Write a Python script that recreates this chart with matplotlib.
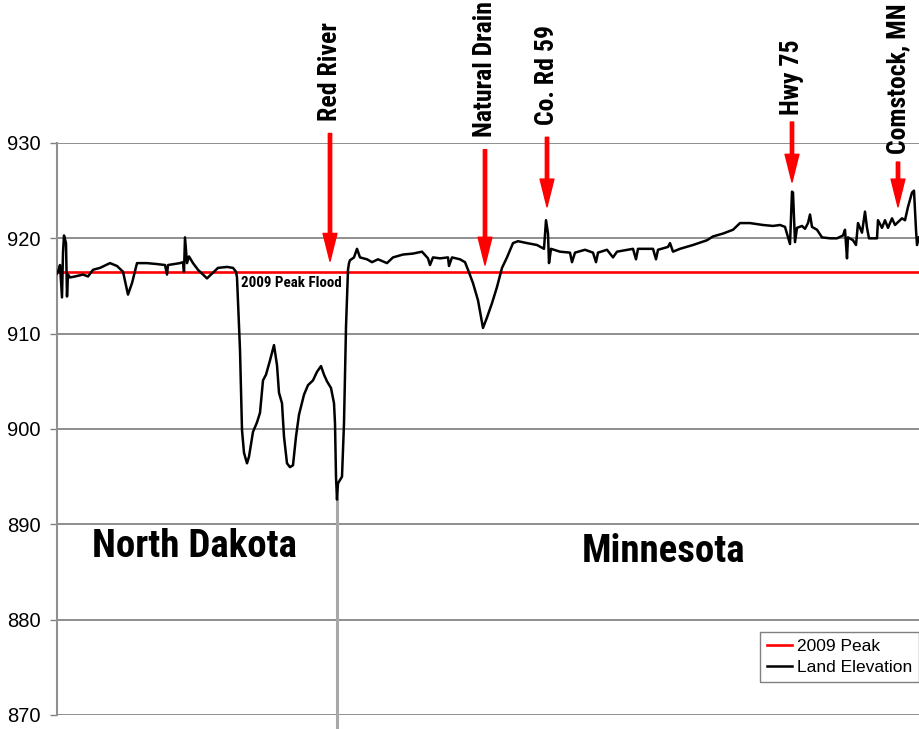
import matplotlib
matplotlib.use("Agg")
import matplotlib.pyplot as plt
from matplotlib import font_manager

# land elevation profile, ND -> MN (distance in arbitrary chart units)
dist = [0,
        1, 3, 5, 6, 7, 9, 10, 11, 13, 18,
        26, 31, 36, 43, 53, 60, 66, 71, 75, 80,
        90, 100, 108, 110, 111, 123, 126, 127, 128, 130,
        132, 136, 141, 150, 155, 161, 170, 176, 179,
        180, 183, 185, 187, 190, 192, 196, 200, 203, 206,
        209, 213, 217, 220, 222, 225, 227, 230, 233, 236,
        239, 242, 247, 251, 256, 260, 264, 267, 270, 274,
        277, 278, 279, 280, 281, 285, 287, 289, 291, 292,
        293, 297, 300,
        303, 310, 315, 321, 330, 336, 346, 356, 365, 371,
        373, 376, 383, 391, 392, 395, 403, 408, 411, 416,
        421, 426, 430, 435, 440, 445, 450, 456, 461, 470,
        480, 487, 489, 491, 492, 494, 503, 513, 515, 518,
        528, 536, 539, 541,
        550, 556, 560, 576, 579, 581, 596, 599, 601, 611,
        613, 616, 623, 636, 650, 656, 666, 676, 683, 693,
        706, 716, 723, 728, 731, 733, 735, 736, 738, 740,
        745, 748, 751, 753, 755, 760, 765, 773, 780, 786,
        788, 790, 791, 796, 799, 801, 805, 808, 810, 812,
        820, 821, 825, 828, 831, 835, 838, 841, 845, 848,
        851, 855, 857, 859, 860, 862]

elevation = [916.3,
             916.5, 917.2, 913.8, 918.5, 920.3, 919.5, 913.9, 916.2, 915.9, 916.0,
             916.2, 916.0, 916.7, 916.9, 917.4, 917.1, 916.5, 914.1, 915.3, 917.4,
             917.4, 917.3, 917.2, 916.2, 917.2, 917.4, 917.5, 916.5, 920.1, 917.4,
             918.1, 917.4, 916.7, 915.8, 916.3, 916.9, 917.0, 916.9, 916.5,
             915.9, 908.3, 899.9, 897.5, 896.4, 897.1, 899.7, 900.7, 901.7, 905.1,
             905.7, 907.2, 908.8, 906.7, 903.8, 902.7, 899.2, 896.4, 896.0, 896.2,
             899.2, 901.5, 903.6, 904.6, 905.1, 906.0, 906.6, 905.7, 905.0, 904.3,
             902.7, 900.6, 895.0, 892.6, 894.3, 895.0, 900.6, 910.7, 916.7, 917.4,
             917.7, 918.0, 918.9,
             918.0, 917.8, 917.5, 917.8, 917.4, 918.0, 918.3, 918.4, 918.6, 917.9,
             917.2, 918.0, 917.9, 918.0, 917.1, 918.0, 917.8, 917.5, 916.7, 915.3,
             913.5, 910.6, 911.7, 913.2, 914.9, 916.9, 918.0, 919.5, 919.7, 919.5,
             919.3, 918.9, 921.9, 920.5, 917.4, 918.9, 918.6, 918.5, 917.5, 918.5,
             918.8, 918.5, 917.5, 918.5,
             918.8, 918.0, 918.6, 918.9, 917.8, 918.9, 918.9, 917.8, 918.8, 919.1,
             919.5, 918.6, 918.9, 919.3, 919.8, 920.2, 920.5, 920.9, 921.6, 921.6,
             921.4, 921.3, 921.4, 921.2, 920.1, 919.4, 924.9, 924.8, 919.6, 921.1,
             921.3, 921.0, 921.6, 922.5, 921.2, 920.9, 920.1, 920.0, 920.0, 920.3,
             920.9, 917.9, 920.1, 919.8, 919.3, 921.6, 920.6, 922.8, 921.1, 920.0,
             920.0, 921.9, 921.1, 921.9, 921.1, 922.1, 921.4, 921.7, 922.1, 921.9,
             923.3, 924.8, 925.0, 920.9, 919.3, 920.1]

peak_2009 = 916.5

# landmarks: label, x, arrow tail, arrow tip, label base
marker_names = ["Red River", "Natural Drain", "Co. Rd 59", "Hwy 75", "Comstock, MN"]
marker_x = [273, 428, 490, 735, 841]
marker_tail = [931.0, 929.3, 930.6, 932.2, 928.0]
marker_tip = [917.6, 917.2, 923.3, 925.9, 923.3]
marker_label_y = [932.3, 930.6, 931.9, 932.9, 928.8]

y_ticks = [870, 880, 890, 900, 910, 920, 930]


def pick_font(names, fallback):
    have = {f.name for f in font_manager.fontManager.ttflist}
    for n in names:
        if n in have:
            return n
    return fallback


narrow = pick_font(["Liberation Sans Narrow", "Arial Narrow", "DejaVu Sans Condensed",
                    "Roboto Condensed"], "Liberation Sans")
plt.rcParams["font.family"] = ["Liberation Sans", "DejaVu Sans"]

fig = plt.figure(figsize=(9.2, 7.29), dpi=100)
ax = fig.add_axes([57 / 920, 14 / 729, 1 - 57 / 920, 572 / 729])

ax.axhline(peak_2009, color="#ff0000", lw=1.9, label="2009 Peak", zorder=3)
ax.plot(dist, elevation, color="black", lw=1.8, label="Land Elevation", zorder=4)

# the deepest point runs off the bottom of the chart
i_min = elevation.index(min(elevation))
ax.plot([dist[i_min], dist[i_min]], [min(elevation), 868.0], color="#a8a8a8",
        lw=2.2, clip_on=False, zorder=2)

ax.set_xlim(0, 863)
ax.set_ylim(870, 930)
ax.set_yticks(y_ticks)
ax.set_xticks([])
ax.tick_params(axis="y", length=5, width=1, color="#808080", pad=7, labelsize=14.5)
ax.grid(axis="y", color="#707070", lw=1.1)
for s in ["top", "right", "bottom"]:
    ax.spines[s].set_visible(False)
ax.spines["left"].set_color("#909090")
ax.spines["left"].set_linewidth(1.5)

for name, x, tail, tip, ly in zip(marker_names, marker_x, marker_tail,
                                  marker_tip, marker_label_y):
    ax.annotate("", xy=(x, tip), xytext=(x, tail), annotation_clip=False,
                arrowprops=dict(facecolor="#ff0000", edgecolor="#ff0000",
                                width=2.4, headwidth=10, headlength=20))
    ax.text(x, ly, name, rotation=90, ha="center", va="bottom", fontsize=18.5,
            fontweight="bold", family=narrow, clip_on=False)

ax.text(184, 916.1, "2009 Peak Flood", ha="left", va="top", fontsize=10.8,
        fontweight="bold", family=narrow)
ax.text(137, 887.7, "North Dakota", ha="center", va="center", fontsize=28,
        fontweight="bold", family=narrow)
ax.text(607, 887.2, "Minnesota", ha="center", va="center", fontsize=28,
        fontweight="bold", family=narrow)

leg = ax.legend(loc="upper right", bbox_to_anchor=(919 / 920, 1 - 632 / 729),
                bbox_transform=fig.transFigure, fontsize=12.5, frameon=True,
                fancybox=False, framealpha=1, edgecolor="#808080",
                borderaxespad=0, borderpad=0.4, handlelength=1.4,
                handletextpad=0.3, labelspacing=0.35)
leg.get_frame().set_linewidth(1.0)

fig.savefig("out.png", dpi=100)
